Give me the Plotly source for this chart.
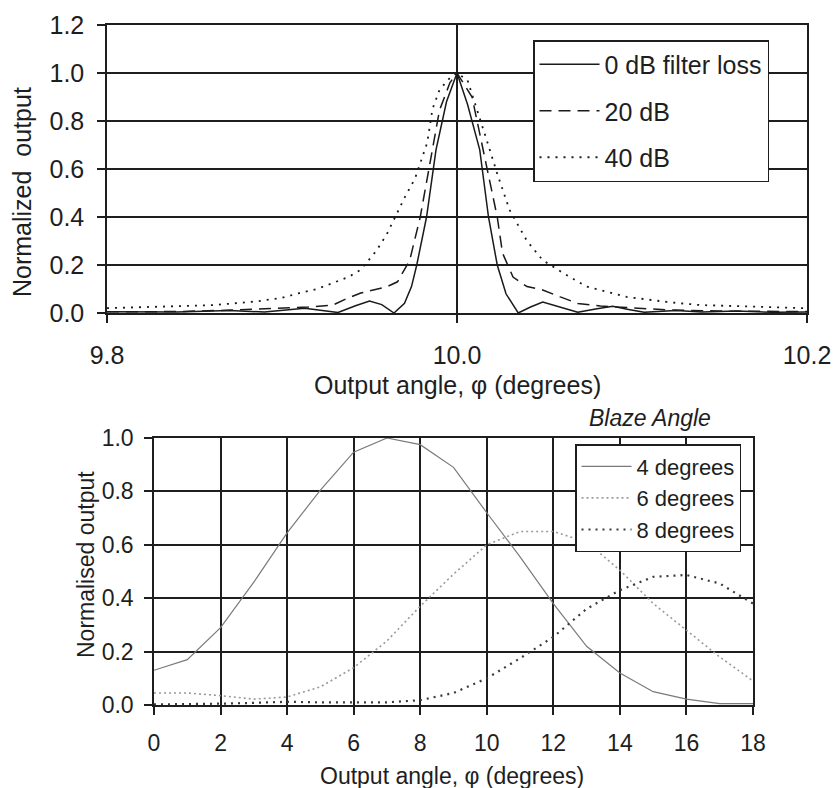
import plotly.graph_objects as go

# ---------------- upper panel: output around 10 degrees for three filter losses
phi_0db = [9.800, 9.840, 9.870, 9.890, 9.913, 9.925, 9.932, 9.942, 9.950, 9.957,
           9.964, 9.970, 9.974, 9.977, 9.9826, 9.988, 9.994, 10.000, 10.006, 10.013,
           10.018, 10.023, 10.028, 10.035, 10.042, 10.049, 10.056, 10.069, 10.080,
           10.089, 10.098, 10.107, 10.125, 10.140, 10.160, 10.180, 10.200]
out_0db = [0.005, 0.004, 0.010, 0.004, 0.020, 0.008, 0.002, 0.030, 0.050, 0.035,
           0.000, 0.040, 0.110, 0.200, 0.400, 0.680, 0.880, 1.000, 0.870, 0.680,
           0.400, 0.200, 0.080, 0.000, 0.025, 0.046, 0.030, 0.003, 0.018,
           0.028, 0.015, 0.003, 0.010, 0.004, 0.008, 0.003, 0.004]

phi_20db = [9.800, 9.840, 9.872, 9.899, 9.915, 9.929, 9.937, 9.945, 9.952, 9.960,
            9.966, 9.969, 9.973, 9.979, 9.986, 9.990, 9.996, 10.000, 10.0086, 10.013,
            10.018, 10.023, 10.026, 10.032, 10.040, 10.049, 10.059, 10.069, 10.082,
            10.101, 10.120, 10.150, 10.200]
out_20db = [0.005, 0.006, 0.012, 0.020, 0.025, 0.033, 0.060, 0.083, 0.096, 0.110,
            0.130, 0.166, 0.220, 0.400, 0.680, 0.845, 0.960, 1.000, 0.900, 0.750,
            0.580, 0.400, 0.250, 0.150, 0.110, 0.096, 0.067, 0.040, 0.029,
            0.020, 0.013, 0.008, 0.006]

phi_40db = [9.800, 9.830, 9.861, 9.885, 9.899, 9.910, 9.920, 9.929, 9.938, 9.945,
            9.954, 9.960, 9.966, 9.970, 9.976, 9.983, 9.986, 9.990, 9.996, 10.000,
            10.006, 10.011, 10.017, 10.023, 10.030, 10.040, 10.049, 10.061, 10.074,
            10.097, 10.120, 10.139, 10.177, 10.200]
out_40db = [0.020, 0.025, 0.033, 0.048, 0.062, 0.083, 0.100, 0.125, 0.150, 0.180,
            0.260, 0.330, 0.420, 0.480, 0.560, 0.710, 0.850, 0.930, 0.980, 1.000,
            0.970, 0.860, 0.720, 0.580, 0.430, 0.300, 0.220, 0.165, 0.110,
            0.067, 0.046, 0.033, 0.025, 0.020]

# ---------------- lower panel: output vs angle for three blaze angles
angle = [0, 1, 2, 3, 4, 5, 6, 7, 8, 9, 10, 11, 12, 13, 14, 15, 16, 17, 18]
blaze_4 = [0.13, 0.17, 0.29, 0.46, 0.645, 0.805, 0.947, 1.0, 0.975, 0.89,
           0.72, 0.555, 0.38, 0.22, 0.12, 0.05, 0.022, 0.005, 0.005]
blaze_6 = [0.045, 0.045, 0.035, 0.022, 0.03, 0.068, 0.14, 0.24, 0.37, 0.49,
           0.60, 0.65, 0.65, 0.61, 0.505, 0.38, 0.28, 0.18, 0.09]
blaze_8 = [0.002, 0.003, 0.005, 0.008, 0.012, 0.010, 0.010, 0.010, 0.018, 0.045,
           0.10, 0.175, 0.255, 0.36, 0.43, 0.48, 0.487, 0.455, 0.38]

FONT = "Liberation Sans, Arial, Helvetica, sans-serif"
INK = "#1e1e1e"
W, H = 835, 788

fig = go.Figure()

fig.add_trace(go.Scatter(x=phi_0db, y=out_0db, mode="lines", name="0 dB filter loss",
                         line=dict(color="#1a1a1a", width=1.5),
                         xaxis="x", yaxis="y", legend="legend", legendgroup="a"))
fig.add_trace(go.Scatter(x=phi_20db, y=out_20db, mode="lines", name="20 dB",
                         line=dict(color="#1a1a1a", width=1.5, dash="12px,7px"),
                         xaxis="x", yaxis="y", legend="legend", legendgroup="b"))
fig.add_trace(go.Scatter(x=phi_40db, y=out_40db, mode="lines", name="40 dB",
                         line=dict(color="#1a1a1a", width=1.8, dash="2px,6px"),
                         xaxis="x", yaxis="y", legend="legend", legendgroup="c"))

fig.add_trace(go.Scatter(x=angle, y=blaze_4, mode="lines", name="4 degrees",
                         line=dict(color="#7a7a7a", width=1.2),
                         xaxis="x2", yaxis="y2", legend="legend2"))
fig.add_trace(go.Scatter(x=angle, y=blaze_6, mode="lines", name="6 degrees",
                         line=dict(color="#9a9a9a", width=1.6, dash="2px,3px"),
                         xaxis="x2", yaxis="y2", legend="legend2"))
fig.add_trace(go.Scatter(x=angle, y=blaze_8, mode="lines", name="8 degrees",
                         line=dict(color="#3a3a3a", width=2.2, dash="2px,5px"),
                         xaxis="x2", yaxis="y2", legend="legend2"))

axis_style = dict(showgrid=True, gridcolor=INK, gridwidth=1.5,
                  showline=True, linecolor=INK, linewidth=1.5, mirror=True,
                  ticks="outside", ticklen=8, tickwidth=1.5, tickcolor=INK,
                  zeroline=False, fixedrange=True, automargin=False)


def dom_x(a, b):
    return [a / W, b / W]


def dom_y(top, bottom):
    return [1 - bottom / H, 1 - top / H]


fig.update_layout(
    width=W, height=H, autosize=False,
    margin=dict(l=0, r=0, t=0, b=0, autoexpand=False),
    paper_bgcolor="white", plot_bgcolor="white",
    font=dict(family=FONT, color=INK),
    xaxis=dict(axis_style, domain=dom_x(107, 807), range=[9.8, 10.2],
               tick0=9.8, dtick=0.2, tickformat=".1f", anchor="y",
               tickfont=dict(size=25), ticklabelstandoff=11),
    yaxis=dict(axis_style, domain=dom_y(25, 313), range=[0, 1.2],
               tick0=0, dtick=0.2, tickformat=".1f", anchor="x",
               tickfont=dict(size=25), ticklabelstandoff=8),
    xaxis2=dict(axis_style, domain=dom_x(154, 753), range=[0, 18],
                tick0=0, dtick=2, anchor="y2",
                tickfont=dict(size=23), ticklabelstandoff=9),
    yaxis2=dict(axis_style, domain=dom_y(438, 705), range=[0, 1],
                tick0=0, dtick=0.2, tickformat=".1f", anchor="x2",
                tickfont=dict(size=23), ticklabelstandoff=6),
    legend=dict(x=533 / W, xanchor="left", y=1 - 40 / H, yanchor="top",
                bgcolor="white", bordercolor=INK, borderwidth=1.5,
                font=dict(size=25, family=FONT, color=INK),
                tracegroupgap=11, itemwidth=60),
    legend2=dict(x=575 / W, xanchor="left", y=1 - 444 / H, yanchor="top",
                 bgcolor="white", bordercolor=INK, borderwidth=1.5,
                 font=dict(size=22, family=FONT, color=INK),
                 tracegroupgap=0, itemwidth=50),
    annotations=[
        dict(text="Output angle, \u03c6 (degrees)", x=458 / W, y=1 - 385 / H,
             xref="paper", yref="paper", xanchor="center", yanchor="middle",
             showarrow=False, font=dict(size=25)),
        dict(text="Normalized  output", x=22 / W, y=1 - 192 / H, textangle=-90,
             xref="paper", yref="paper", xanchor="center", yanchor="middle",
             showarrow=False, font=dict(size=25)),
        dict(text="<i>Blaze Angle</i>", x=650 / W, y=1 - 418 / H,
             xref="paper", yref="paper", xanchor="center", yanchor="middle",
             showarrow=False, font=dict(size=23)),
        dict(text="Output angle, \u03c6 (degrees)", x=452 / W, y=1 - 776 / H,
             xref="paper", yref="paper", xanchor="center", yanchor="middle",
             showarrow=False, font=dict(size=23)),
        dict(text="Normalised output", x=86 / W, y=1 - 565 / H, textangle=-90,
             xref="paper", yref="paper", xanchor="center", yanchor="middle",
             showarrow=False, font=dict(size=23)),
    ],
)

fig.write_html("out.html")
